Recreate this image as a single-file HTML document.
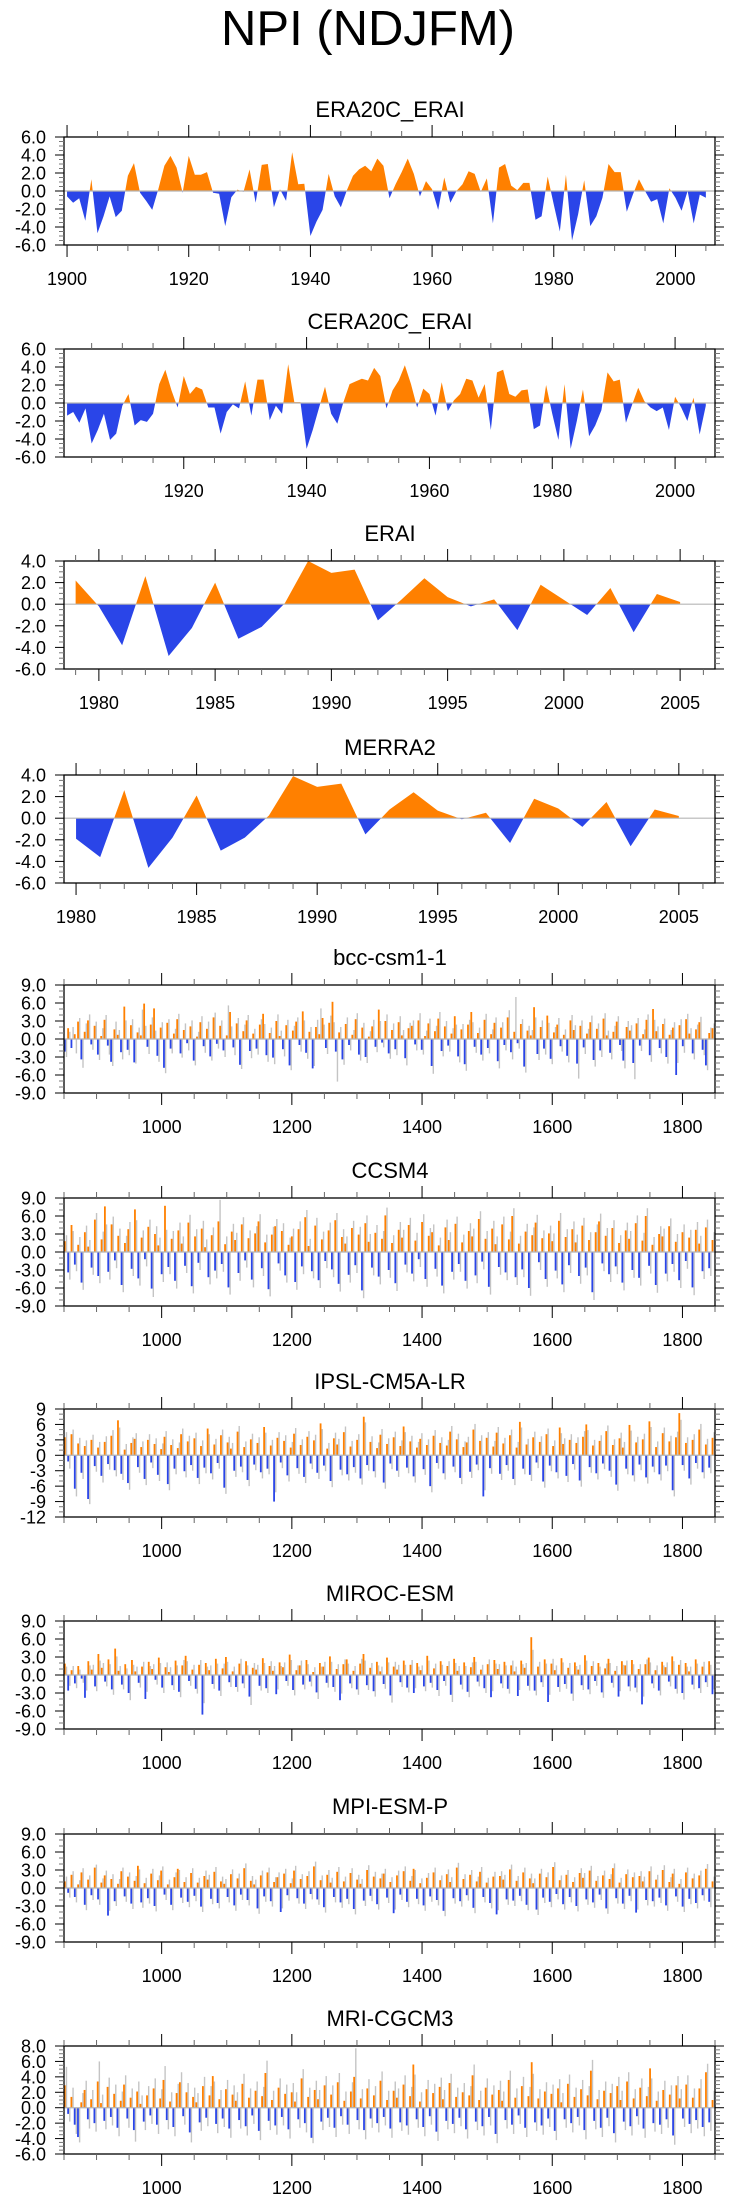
<!DOCTYPE html>
<html><head><meta charset="utf-8"><title>NPI (NDJFM)</title>
<style>
html,body{margin:0;padding:0;background:#fff;}
svg{display:block;font-family:"Liberation Sans",Arial,sans-serif;}
</style></head>
<body>
<svg id="chart" width="736" height="2204" viewBox="0 0 736 2204" xmlns="http://www.w3.org/2000/svg">
<text x="368" y="45" text-anchor="middle" font-size="49">NPI (NDJFM)</text>
</svg>
<script>
// ---- reanalysis data ----
const era20cStart = 1900;
const era20cVals = [-0.6,-1.3,-0.8,-3.3,1.3,-4.7,-2.8,-0.6,-2.9,-2.2,
1.7,3.1,-0.2,-1.1,-2.1,0.2,2.8,3.9,2.6,-0.2,
3.9,1.8,1.8,2.1,-0.2,-0.3,-3.9,-0.7,0.15,-0.1,
2.4,-1.3,2.9,3.0,-1.8,0.2,-1.1,4.3,0.75,0.8,
-5.0,-3.4,-2.1,1.9,-0.6,-1.8,0.1,1.7,2.4,2.8,
2.2,3.6,2.8,-0.8,0.75,2.1,3.6,1.9,-0.6,1.1,
0.2,-2.1,1.5,-1.3,0,0.75,2.2,1.9,-0.1,1.4,
-3.6,2.6,3.0,0.6,0.1,0.9,0.9,-3.2,-2.8,1.6,
-1.5,-4.5,1.8,-5.5,-2.6,1.2,-3.9,-2.8,-0.75,3.0,
2.1,2.1,-2.3,-0.4,1.3,0,-1.2,-0.9,-3.6,0.3,
-0.75,-2.2,0,-3.6,-0.4,-0.75];
const cera20cStart = 1901;
const cera20cVals = [-1.4,-1.0,-2.2,-0.6,-4.5,-3.0,-1.2,-4.1,-3.4,
-0.3,1.0,-2.5,-1.9,-2.1,-1.2,2.1,3.7,1.4,-0.5,
3.0,1.0,1.8,1.5,-0.5,-0.5,-3.4,-1.0,-0.15,-0.6,
2.4,-1.4,2.6,2.6,-1.9,-0.3,-1.2,4.3,0.1,0.1,
-5.1,-3.0,-0.6,1.8,-1.2,-2.3,0.1,2.1,2.4,2.7,
2.5,3.9,3.0,-0.6,1.4,2.5,4.2,2.1,-0.5,1.6,
1.0,-1.4,2.3,-0.9,0.3,1.0,2.7,2.5,0.6,2.1,
-3.0,3.4,3.7,1.0,0.7,1.4,1.5,-2.9,-2.5,2.0,
-1.2,-4.1,2.1,-5.1,-2.0,1.5,-3.7,-2.5,-0.8,3.4,
2.4,2.6,-2.2,-0.2,1.7,0.2,-0.5,-0.9,-0.5,-3.0,
0.7,-0.5,-2.0,0.6,-3.5,-0.3];
const eraiStart = 1979;
const eraiVals = [2.2,-0.2,-3.8,2.6,-4.8,-2.2,2.0,-3.2,-2.1,0.1,4.0,2.9,3.2,-1.5,0.4,2.4,0.65,-0.2,0.45,-2.4,1.8,0.4,-1.0,1.5,-2.6,0.95,0.2];
const merra2Start = 1980;
const merra2Vals = [-1.9,-3.6,2.6,-4.6,-1.8,2.1,-3.0,-1.8,0.25,3.9,2.9,3.2,-1.5,0.8,2.4,0.7,-0.1,0.5,-2.3,1.8,0.9,-0.8,1.5,-2.6,0.8,0.2];

// ---- model data (evenly spaced samples 850-1850) ----
const modelStart = 850;
const modelEnd = 1850;
const bccVals = [-2.1,1.8,-1.5,0.8,2.9,-3.4,1.2,3.1,-0.9,2.2,-2.6,0.5,3.2,-1.1,-3.8,1.6,0.7,-2.2,5.4,-1.8,2.3,-3.9,1.1,0.6,5.9,-1.3,2.4,5.1,-2.8,1.9,-4.8,2.7,-1.6,0.9,3.3,-2.4,1.5,-0.7,2.1,-3.6,0.4,2.8,-1.2,1.7,-2.9,3.6,-0.8,2.2,-1.9,0.6,4.5,-1.4,2.6,-4.3,1.3,3.1,-2.0,0.9,-1.6,2.4,4.2,-2.7,1.0,-3.1,3.0,0.5,-1.7,2.3,-4.4,1.4,2.9,-1.0,4.6,-2.3,1.2,-4.9,2.0,0.8,3.5,-1.5,2.7,6.2,-2.1,1.1,-3.4,2.5,-1.0,0.7,3.3,-2.6,1.9,-3.0,0.4,2.1,-1.3,4.9,-0.6,3.0,-2.4,1.5,-1.7,2.8,0.6,-3.2,1.8,2.2,-0.9,3.1,-1.8,0.5,2.6,-4.5,1.3,3.4,-2.0,2.1,-1.1,0.9,3.8,-2.9,1.6,-4.2,2.4,4.5,-1.3,1.0,-2.6,3.2,-1.5,0.8,2.7,-3.7,1.9,-1.0,3.6,-2.2,1.2,-0.7,2.5,-4.6,1.4,0.6,5.3,-2.5,2.0,-1.6,3.9,-3.3,1.1,2.4,-1.2,0.7,-2.8,3.1,1.5,-4.1,2.2,-1.4,0.9,2.8,-3.5,1.7,-1.9,3.4,0.6,-2.3,1.2,2.9,-1.0,-3.6,2.0,1.4,-4.0,2.6,-1.1,0.8,3.2,-2.7,5.0,1.3,-1.5,2.5,-3.0,0.7,1.9,-6.0,2.3,-1.2,3.3,0.9,-2.4,1.6,2.8,-1.8,-4.4,1.0,1.8];
const bccGrey = [-3.0,1.2,2.0,-2.4,3.5,-4.8,2.6,4.1,-1.8,2.9,-3.5,1.8,4.0,-2.6,-4.5,2.9,1.5,-3.4,3.1,-2.7,3.3,-4.1,1.9,4.9,2.2,-2.5,3.6,1.4,-3.8,2.8,-5.7,3.3,-2.4,1.7,4.2,-3.1,2.6,-1.9,3.1,-4.4,1.2,3.8,-2.3,2.9,-3.6,4.4,-1.6,3.1,-3.0,5.6,2.1,-2.7,3.5,-5.0,2.4,4.0,-3.2,1.7,-2.6,3.3,2.5,-3.8,1.9,-4.2,4.1,1.4,-2.9,3.2,-5.2,2.2,3.6,-2.1,3.1,-3.3,2.0,-4.5,3.2,5.1,2.4,-2.5,3.9,2.8,-7.1,2.0,-4.3,3.6,-1.9,1.5,4.3,-3.6,2.7,-4.0,1.3,3.2,-2.2,3.0,-1.4,4.1,-3.3,2.6,-2.7,3.8,1.5,-4.4,2.7,3.1,-1.9,4.3,-2.6,1.4,3.4,-5.8,2.2,4.5,-2.9,3.0,-2.1,1.8,2.4,-3.9,2.5,-5.3,3.2,2.8,-2.3,1.9,-3.6,4.2,-2.4,1.6,3.6,-4.9,2.8,-1.9,4.8,-3.4,7.0,-1.6,3.3,-5.6,2.2,1.5,3.6,-3.5,3.1,-2.6,2.7,-4.2,2.0,3.5,-2.1,1.6,-3.9,4.0,2.3,-6.6,3.1,-2.5,1.7,3.9,-4.6,2.6,-3.0,4.3,1.4,-3.4,2.2,3.8,-2.0,-4.9,3.0,2.3,-6.7,3.5,-2.0,1.6,4.1,-3.8,3.2,2.1,-2.4,3.4,-4.1,1.5,2.8,-4.0,3.3,-2.3,4.2,1.8,-3.4,2.4,3.7,-2.7,-5.2,1.9,2.6];
const ccsmVals = [1.8,-3.4,4.5,-2.1,1.2,-5.1,3.3,0.9,-2.6,5.4,-4.0,2.1,7.6,-3.3,4.6,-1.4,2.7,-5.5,1.5,3.8,-2.8,7.1,-4.4,2.4,-1.2,4.2,-6.1,3.0,1.1,-3.7,7.7,-2.5,2.2,-4.8,3.6,1.4,-2.3,4.9,-5.7,2.6,-1.8,3.9,0.8,-4.2,2.8,-3.1,5.1,-2.0,1.3,-5.9,3.4,2.0,-3.5,4.6,-1.4,2.3,-4.6,3.1,5.1,-2.7,1.6,-6.2,2.9,4.3,-1.9,3.5,-3.9,1.2,2.6,-5.0,3.8,-2.4,5.8,1.0,-3.2,4.4,-4.7,2.1,-1.5,3.6,-2.9,5.3,-5.3,2.5,1.4,-3.8,4.0,-2.2,2.9,-6.4,4.8,1.7,-2.6,3.2,-4.1,2.2,6.1,-3.0,1.5,-5.2,3.7,2.4,-2.1,4.5,-3.6,1.9,-1.2,5.0,-4.5,2.7,3.3,-2.8,1.1,-5.6,4.1,2.0,-3.3,4.7,-2.0,1.6,-4.8,3.5,2.6,-3.9,5.5,-1.6,2.2,-5.8,3.9,1.3,-2.5,4.6,-3.4,2.1,6.0,-4.2,1.4,-2.9,3.4,-6.0,2.8,4.9,-1.7,2.3,-4.5,3.1,1.8,-3.1,5.2,-5.4,2.5,-2.2,3.8,1.6,-4.0,4.4,-2.6,2.0,-6.7,3.3,5.1,-1.9,2.7,-3.7,4.0,-2.4,1.5,-5.1,3.6,2.2,-3.0,4.8,-4.3,1.9,6.0,-2.3,1.2,-5.5,3.0,2.6,-3.6,4.3,-2.0,1.7,-4.7,3.3,-1.5,2.4,-5.9,3.7,1.4,-3.2,4.1,-2.7,2.0];
const ccsmGrey = [2.8,-4.6,3.5,-3.2,2.5,-6.3,4.4,2.0,-3.8,6.5,-5.2,3.4,4.6,-4.6,5.9,-2.7,3.9,-6.7,2.7,5.0,-4.0,5.3,-5.6,3.6,-2.4,5.4,-7.5,4.3,2.4,-5.0,3.7,-3.7,3.5,-6.1,4.9,2.6,-3.5,6.2,-6.9,3.8,-3.0,5.2,2.1,-5.4,4.1,-4.4,8.7,-3.3,2.6,-7.1,4.7,3.2,-4.8,5.8,-2.6,3.6,-5.9,4.3,6.3,-4.0,2.9,-7.4,4.2,5.5,-3.1,4.8,-5.1,2.4,3.9,-6.3,5.1,-3.7,7.0,2.2,-4.4,5.7,-6.0,3.4,-2.7,4.9,-4.2,6.5,-6.6,3.8,2.6,-5.1,5.2,-3.5,4.2,-7.7,6.1,3.0,-3.9,4.5,-5.4,3.5,7.4,-4.3,2.8,-6.5,5.0,3.7,-3.4,5.7,-4.9,3.2,-2.5,6.3,-5.8,4.0,4.6,-4.1,2.4,-6.9,5.4,3.3,-4.6,5.9,-3.3,2.9,-6.1,4.8,3.9,-5.2,6.8,-2.9,3.5,-7.1,5.2,2.6,-3.8,5.9,-4.7,3.4,7.3,-5.5,2.7,-4.2,4.7,-7.3,4.1,6.2,-3.0,3.6,-5.8,4.4,3.1,-4.4,6.5,-6.7,3.8,-3.5,5.1,2.9,-5.3,5.7,-3.9,3.3,-8.0,4.6,6.4,-3.2,4.0,-5.0,5.3,-3.7,2.8,-6.4,4.9,3.5,-4.3,6.1,-5.6,3.2,7.3,-3.6,2.5,-6.8,4.3,3.9,-4.9,5.6,-3.3,3.0,-6.0,4.6,-2.8,3.7,-7.2,5.0,2.7,-4.5,5.4,-4.0,3.3];
const ipslVals = [3.5,-1.2,4.1,-6.5,2.3,-3.4,1.8,-8.5,3.0,-2.1,1.5,-4.0,2.6,-1.7,3.8,-2.9,6.8,-3.6,1.1,-5.4,2.4,3.2,-2.3,1.6,-4.6,3.0,-1.4,2.2,-3.8,1.2,3.6,-5.6,2.0,-2.6,1.4,4.1,-3.1,2.7,-1.9,3.3,-4.4,1.8,-2.4,5.2,-3.5,2.1,-1.5,3.9,-6.3,2.5,1.3,-3.0,4.6,-2.2,1.6,-4.8,3.1,-1.8,2.4,-3.3,5.5,-2.6,1.9,-9.0,3.4,-1.4,2.8,-3.9,1.5,4.2,-2.5,2.0,-4.2,3.6,-1.6,2.9,-3.4,6.2,-2.0,1.3,-5.0,3.3,2.1,-2.8,4.5,-3.7,1.7,-2.3,3.0,-4.5,7.5,-1.9,2.6,-3.1,1.4,4.0,-5.3,2.2,-1.6,3.5,-3.0,1.8,5.6,-2.4,2.7,-4.1,1.5,3.2,-2.7,2.0,-6.0,3.8,-1.5,2.4,-3.5,1.9,4.6,-2.2,3.1,-4.4,1.6,2.5,-3.2,5.0,-1.8,2.8,-8.0,3.4,-2.5,1.7,4.4,-3.6,2.3,-1.9,3.9,-4.6,1.5,6.5,-2.6,2.1,-3.8,3.5,-1.4,2.6,-5.1,4.1,-2.0,1.8,-3.3,5.4,2.2,-4.0,3.0,-1.7,2.4,-4.9,3.6,6.0,-2.3,1.9,-3.5,2.8,-1.6,4.7,-3.0,2.0,-5.7,3.3,1.5,-2.6,5.9,-3.9,2.5,-1.8,3.1,-4.3,6.6,-2.2,1.6,-3.7,4.3,-2.0,2.7,-6.8,3.5,8.2,-1.9,2.4,-4.5,3.0,-1.5,5.0,-3.3,2.1,-2.4,3.4];
const ipslGrey = [4.5,-2.6,5.0,-8.0,3.4,-4.6,2.9,-9.5,4.0,-3.2,2.6,-5.3,3.7,-2.8,4.9,-4.1,5.4,-4.8,2.2,-6.7,3.5,4.3,-3.4,2.7,-5.8,4.1,-2.5,3.3,-5.0,2.3,4.7,-6.8,3.1,-3.7,2.5,5.2,-4.3,3.8,-3.0,4.4,-5.6,2.9,-3.5,4.1,-4.7,3.2,-2.6,5.0,-7.5,3.6,2.4,-4.2,5.7,-3.3,2.7,-6.0,4.2,-2.9,3.5,-4.5,4.4,-3.7,3.0,-7.2,4.5,-2.5,3.9,-5.1,2.6,5.3,-3.6,3.1,-5.4,4.7,-2.7,4.0,-4.6,5.1,-3.1,2.4,-6.2,4.4,3.2,-3.9,5.6,-4.9,2.8,-3.4,4.1,-5.7,6.4,-3.0,3.7,-4.3,2.5,5.1,-6.5,3.3,-2.7,4.6,-4.2,2.9,4.5,-3.5,3.8,-5.3,2.6,4.3,-3.8,3.1,-7.2,4.9,-2.6,3.5,-4.7,3.0,5.7,-3.3,4.2,-5.6,2.7,3.6,-4.4,6.1,-2.9,3.9,-6.8,4.5,-3.6,2.8,5.5,-4.8,3.4,-3.0,5.0,-5.8,2.6,5.4,-3.7,3.2,-5.0,4.6,-2.5,3.7,-6.3,5.2,-3.1,2.9,-4.5,4.3,3.3,-5.2,4.1,-2.8,3.5,-6.1,4.7,4.9,-3.4,3.0,-4.7,3.9,-2.7,5.8,-4.2,3.1,-6.9,4.4,2.6,-3.7,4.8,-5.1,3.6,-2.9,4.2,-5.5,5.5,-3.3,2.7,-4.9,5.4,-3.1,3.8,-8.0,4.6,6.9,-3.0,3.5,-5.7,4.1,-2.6,6.1,-4.5,3.2,-3.5,4.5];
const mirocVals = [1.9,-2.6,0.8,-1.4,1.5,-0.6,-3.8,2.3,0.9,-1.9,3.5,1.2,-1.1,2.6,-2.4,4.4,0.7,-1.6,1.8,-3.0,2.5,0.6,-1.3,1.4,-4.0,2.2,1.0,-0.8,2.9,-2.1,1.3,0.5,-1.7,2.4,-2.8,1.6,3.2,-1.0,0.9,-2.3,1.7,-6.6,2.0,0.8,-1.5,2.7,-2.6,1.1,3.0,-1.2,0.6,-2.0,1.9,-1.4,2.3,-3.6,1.2,0.9,-1.8,2.8,-2.2,1.5,0.7,-3.2,2.1,1.3,-1.0,3.4,-2.5,0.8,1.6,-1.6,2.5,-1.1,0.5,-2.9,2.0,1.4,-1.3,3.1,-2.0,1.0,-4.2,1.8,2.6,-1.4,0.7,-2.4,1.9,3.5,-1.7,1.2,-2.7,2.2,0.6,-1.5,2.9,-3.4,1.4,0.9,-1.2,2.4,-2.1,1.7,-3.0,2.0,0.8,-1.9,3.2,-1.3,1.1,-2.5,2.3,-1.0,1.5,-3.3,2.7,0.7,-1.6,2.1,-2.8,1.3,3.0,-1.1,0.9,-2.2,1.8,-3.7,2.5,1.0,-1.4,2.2,-2.3,1.6,0.6,-3.5,2.4,1.2,-1.8,6.3,-2.6,1.4,-1.2,2.6,-4.5,1.9,0.8,-2.0,2.8,-1.5,1.2,-3.1,2.1,0.9,-1.7,3.3,-2.4,1.5,-1.0,2.0,-2.9,1.1,2.7,-1.3,0.7,-3.6,2.3,1.6,-1.9,2.5,-2.1,1.0,-4.9,1.8,2.9,-1.4,0.8,-2.6,2.2,1.3,-1.1,3.1,-2.3,1.7,-3.0,2.0,0.6,-1.6,2.6,-2.2,1.4,-1.2,2.3,-3.2];
const mirocGrey = [1.4,-1.8,1.5,-2.2,0.9,-1.3,-2.6,1.6,1.7,-2.7,2.4,2.0,-1.9,1.8,-3.3,3.1,1.5,-2.4,1.1,-4.2,1.7,1.4,-2.1,2.2,-2.8,1.5,1.8,-1.6,2.0,-3.0,2.1,1.3,-2.5,1.6,-3.7,2.5,2.3,-1.8,1.7,-3.1,2.5,-4.7,1.4,1.6,-2.3,1.9,-3.5,1.9,2.2,-2.0,1.4,-2.8,2.7,-2.2,1.6,-5.0,2.0,1.7,-2.6,2.0,-3.0,2.3,1.5,-2.4,1.5,2.1,-1.8,2.5,-3.4,1.6,2.4,-2.4,1.8,-1.9,1.3,-4.0,1.4,2.2,-2.1,2.2,-2.8,1.8,-3.1,2.6,1.9,-2.2,1.5,-3.3,2.7,2.4,-2.5,2.0,-3.6,1.6,1.4,-2.3,2.1,-4.6,2.2,1.7,-2.0,1.7,-2.9,2.5,-2.2,1.4,1.6,-2.7,2.4,-2.1,1.9,-3.5,1.7,-1.8,2.3,-4.5,2.0,1.5,-2.4,1.5,-3.7,2.1,2.2,-1.9,1.7,-3.0,2.6,-2.7,1.9,1.8,-2.2,1.6,-3.1,2.4,1.4,-2.5,1.8,2.0,-2.6,4.2,-3.4,2.2,-2.0,1.9,-3.3,2.7,1.6,-2.8,2.1,-2.3,2.0,-4.3,1.5,1.7,-2.5,2.4,-3.2,2.3,-1.8,1.4,-3.8,1.9,2.0,-2.1,1.5,-2.7,1.7,2.4,-2.7,1.8,-2.9,1.8,-3.6,2.6,2.1,-2.2,1.6,-3.4,1.6,2.1,-1.9,2.3,-3.1,2.5,-4.1,1.4,1.4,-2.4,1.9,-3.0,2.2,-2.0,1.7,-2.4];
const mpiVals = [1.1,-0.8,2.2,-1.5,0.6,2.6,-2.8,1.4,-1.2,3.4,-1.9,0.9,2.1,-4.6,1.5,-2.2,0.7,2.8,-1.4,1.9,-2.6,1.2,3.7,-2.4,0.8,-1.7,2.4,-3.0,1.3,2.9,-1.1,0.6,-2.8,1.8,3.2,-1.6,1.0,-2.3,2.5,-1.3,0.9,-3.1,2.0,1.4,-1.8,2.7,-2.5,1.1,0.7,-1.5,2.3,-2.9,1.6,-1.1,3.3,-2.0,1.2,0.6,-3.4,2.1,-1.4,2.6,-2.2,1.0,1.8,-4.0,2.4,-1.2,0.8,2.9,-1.7,1.5,-2.6,2.0,-1.0,3.6,-1.9,1.3,-3.2,2.2,0.9,-1.5,2.7,-2.4,1.1,-1.8,2.5,-3.5,1.4,0.7,-2.1,3.0,-1.3,1.9,-2.7,1.6,2.4,-1.6,1.0,-4.2,2.1,-1.1,2.8,-2.3,1.2,3.2,-1.8,0.8,-2.9,1.7,-1.4,2.6,-2.0,1.3,-3.8,2.3,1.0,-1.7,3.4,-2.2,1.5,-1.2,2.2,-3.3,1.1,2.7,-1.5,0.9,-2.5,1.9,-4.4,2.0,1.4,-1.9,3.1,-2.1,1.2,-1.3,2.6,-2.8,1.6,0.8,-3.6,2.4,-1.6,1.8,-2.3,3.5,-1.0,1.3,-2.7,2.2,-1.5,1.0,-3.0,2.5,1.7,-1.9,2.9,-2.4,1.2,-1.1,2.1,-3.4,1.5,3.3,-1.7,0.9,-2.6,2.3,-1.3,1.8,-4.1,2.0,1.1,-2.0,2.8,-2.2,1.4,-1.6,3.0,-2.9,1.0,2.4,-1.4,0.7,-3.1,2.6,-1.8,1.6,-2.5,2.1,-1.2,3.2,-2.3,1.1];
const mpiGrey = [1.9,-1.6,2.8,-2.4,1.3,3.3,-3.7,2.1,-2.0,3.9,-2.8,1.6,2.9,-3.8,2.3,-3.0,1.5,3.4,-2.3,2.6,-3.5,2.0,3.1,-3.3,1.7,-2.6,3.2,-3.9,2.1,3.6,-2.0,1.4,-3.7,2.6,3.0,-2.5,1.8,-3.2,3.3,-2.2,1.7,-4.0,2.9,2.2,-2.7,3.5,-3.4,1.9,1.5,-2.4,3.1,-3.8,2.4,-2.0,4.1,-2.9,2.0,1.4,-4.3,2.9,-2.3,3.4,-3.1,1.8,2.6,-3.4,3.2,-2.1,1.6,3.7,-2.6,2.3,-3.5,2.8,-1.9,4.4,-2.8,2.1,-4.1,3.0,1.7,-2.4,3.5,-3.3,1.9,-2.7,3.3,-4.4,2.2,1.5,-3.0,3.8,-2.2,2.7,-3.6,2.4,3.2,-2.5,1.8,-3.6,2.9,-2.0,3.6,-3.2,2.0,3.0,-2.7,1.6,-3.8,2.5,-2.3,3.4,-2.9,2.1,-4.7,3.1,1.8,-2.6,4.2,-3.1,2.3,-2.1,3.0,-4.2,1.9,3.5,-2.4,1.7,-3.4,2.7,-3.7,2.8,2.2,-2.8,3.9,-3.0,2.0,-2.2,3.4,-3.7,2.4,1.6,-4.5,3.2,-2.5,2.6,-3.2,4.3,-1.9,2.1,-3.6,3.0,-2.4,1.8,-3.9,3.3,2.5,-2.8,3.7,-3.3,2.0,-2.0,2.9,-4.3,2.3,4.1,-2.6,1.7,-3.5,3.1,-2.2,2.6,-3.6,2.8,1.9,-2.9,3.6,-3.1,2.2,-2.5,3.8,-3.8,1.8,3.2,-2.3,1.5,-4.0,3.4,-2.7,2.4,-3.4,2.9,-2.1,4.0,-3.2,1.9];
const mriVals = [2.9,-0.8,1.4,-2.2,-3.8,0.7,2.3,-1.5,1.1,-2.0,3.4,0.6,-1.7,2.7,-1.2,1.8,-2.6,0.9,3.0,-1.4,1.3,-2.9,2.1,0.5,-1.8,1.6,-1.0,2.5,-2.2,1.2,3.6,-1.6,0.8,-2.5,1.9,3.3,-1.1,2.0,-3.2,1.4,0.7,-1.9,2.8,-1.3,1.6,4.1,-2.1,1.1,-1.4,2.4,-2.7,1.7,0.9,-1.6,3.1,-2.4,1.3,-1.0,2.2,-3.0,1.5,4.5,-1.7,1.0,-2.3,2.6,-1.2,1.8,-2.8,2.0,0.8,-1.5,3.8,-2.0,1.4,-3.9,2.3,1.1,-1.8,2.9,-1.3,1.7,-2.6,3.3,-1.1,0.9,-2.2,2.1,4.0,-1.6,1.2,-2.9,2.5,-1.4,1.6,-2.0,3.5,-1.2,1.0,-2.7,2.2,1.3,-1.9,3.0,-2.3,1.5,5.6,-1.5,0.8,-2.5,2.4,-1.1,1.9,-3.1,2.7,1.1,-1.7,3.2,-2.1,1.4,-1.3,2.0,-2.8,1.6,4.2,-1.8,1.0,-2.4,2.6,-1.2,1.7,-3.4,2.3,0.9,-1.6,3.6,-2.2,1.3,-1.0,2.8,-2.6,1.5,5.9,-1.9,1.2,-2.3,2.1,-1.4,1.8,-3.0,2.5,0.7,-1.5,3.1,-2.0,1.4,-1.2,2.4,-2.9,1.6,4.8,-1.7,1.1,-2.6,2.2,-1.3,1.9,-3.3,2.8,1.0,-1.8,3.4,-2.4,1.2,-1.1,2.6,-2.7,1.5,5.1,-2.0,0.9,-2.2,2.3,-1.5,1.7,-3.6,2.9,1.2,-1.4,3.0,-2.1,1.3,-1.6,2.5,-2.5,4.6,-1.9,1.0];
const mriGrey = [5.3,-1.8,2.6,-3.4,-4.5,1.9,3.5,-2.7,2.3,-3.1,6.0,1.7,-2.8,3.9,-2.3,3.0,-3.7,2.1,4.2,-2.6,2.5,-4.4,3.4,1.6,-2.9,2.8,-2.1,3.8,-3.4,2.4,5.4,-2.8,2.0,-3.7,3.1,4.6,-2.2,3.2,-4.5,2.6,1.9,-3.0,4.0,-2.4,2.8,3.4,-3.3,2.3,-2.5,3.6,-3.9,2.9,2.0,-2.7,4.4,-3.6,2.5,-2.1,3.4,-4.2,2.7,6.1,-2.9,2.2,-3.5,3.8,-2.3,3.0,-4.0,3.2,2.0,-2.6,5.0,-3.2,2.6,-4.6,3.5,2.3,-2.9,4.1,-2.5,2.9,-3.8,4.5,-2.2,2.1,-3.4,3.3,7.7,-2.8,2.4,-4.1,3.7,-2.6,2.8,-3.2,4.7,-2.3,2.2,-3.9,3.4,2.5,-3.0,4.2,-3.5,2.7,4.3,-2.6,2.0,-3.7,3.6,-2.2,3.1,-4.3,3.9,2.3,-2.8,4.4,-3.3,2.6,-2.4,3.2,-4.0,2.8,5.6,-2.9,2.2,-3.6,3.8,-2.3,2.9,-4.6,3.5,2.1,-2.7,4.8,-3.4,2.5,-2.1,4.0,-3.8,2.7,4.4,-3.0,2.4,-3.5,3.3,-2.5,3.0,-4.2,3.7,1.9,-2.6,4.3,-3.2,2.6,-2.3,3.6,-4.1,2.8,6.2,-2.8,2.3,-3.8,3.4,-2.4,3.1,-4.5,4.0,2.2,-2.9,4.6,-3.6,2.4,-2.2,3.8,-3.9,2.7,3.8,-3.1,2.1,-3.4,3.5,-2.6,2.9,-4.8,4.1,2.4,-2.5,4.2,-3.3,2.5,-2.7,3.7,-3.7,5.7,-3.0,2.2];

// ---- axis tick definitions ----
const ticks6 = [-6,-4,-2,0,2,4,6];
const labels6 = ["-6.0","-4.0","-2.0","0.0","2.0","4.0","6.0"];
const ticks4 = [-6,-4,-2,0,2,4];
const labels4 = ["-6.0","-4.0","-2.0","0.0","2.0","4.0"];
const ticks9 = [-9,-6,-3,0,3,6,9];
const labels9 = ["-9.0","-6.0","-3.0","0.0","3.0","6.0","9.0"];
const ticksIpsl = [-12,-9,-6,-3,0,3,6,9];
const labelsIpsl = ["-12","-9","-6","-3","0","3","6","9"];
const ticksMri = [-6,-4,-2,0,2,4,6,8];
const labelsMri = ["-6.0","-4.0","-2.0","0.0","2.0","4.0","6.0","8.0"];

const NS = "http://www.w3.org/2000/svg";
const svg = document.getElementById("chart");
const ORANGE = "#ff8000", BLUE = "#2a45e8", GREY = "#c4c4c4";
const X0 = 64, X1 = 715, H = 108;

function mk(tag, attrs, parent) {
  const e = document.createElementNS(NS, tag);
  for (const k in attrs) e.setAttribute(k, attrs[k]);
  (parent || svg).appendChild(e);
  return e;
}

function drawPanel(p, idx) {
  const g = mk("g", {});
  
  
  const top = p.top, bot = p.top + H;
  const xs = v => X0 + (v - p.xmin) / (p.xmax - p.xmin) * (X1 - X0);
  const ys = v => top + (p.ymax - v) / (p.ymax - p.ymin) * H;

  const t = mk("text", {x: 390, y: top - 20, "text-anchor": "middle", "font-size": 22}, g);
  t.textContent = p.title;
  
  

  const clipA = "ca" + idx, clipB = "cb" + idx;
  const defs = mk("defs", {}, g);
  const c1 = mk("clipPath", {id: clipA}, defs);
  mk("rect", {x: X0, y: top, width: X1 - X0, height: ys(0) - top}, c1);
  const c2 = mk("clipPath", {id: clipB}, defs);
  mk("rect", {x: X0, y: ys(0), width: X1 - X0, height: bot - ys(0)}, c2);

  if (p.type === "area") {
    let pts = [];
    p.vals.forEach((v, i) => pts.push(xs(p.start + i).toFixed(2) + "," + ys(v).toFixed(2)));
    const xa = xs(p.start), xb = xs(p.start + p.vals.length - 1);
    const poly = xa + "," + ys(0) + " " + pts.join(" ") + " " + xb + "," + ys(0);
    const pa = mk("polygon", {points: poly, fill: ORANGE, "clip-path": "url(#" + clipA + ")"}, g);
    
    
    const pb = mk("polygon", {points: poly, fill: BLUE, "clip-path": "url(#" + clipB + ")"}, g);
    
    
  } else {
    const span = modelEnd - modelStart;
    const gstep = span / p.grey.length, vstep = span / p.vals.length;
    const gg = mk("g", {}, g);
    
    
    p.grey.forEach((v, i) => {
      const x = xs(modelStart + gstep * i + gstep * 0.75);
      const r = mk("rect", {x: x - 0.7, y: Math.min(ys(v), ys(0)), width: 1.4, height: Math.abs(ys(v) - ys(0)), fill: GREY}, gg);
      
    });
    const gb = mk("g", {}, g);
    
    
    p.vals.forEach((v, i) => {
      const x = xs(modelStart + vstep * i + vstep * 0.25);
      const r = mk("rect", {x: x - 0.9, y: Math.min(ys(v), ys(0)), width: 1.8, height: Math.abs(ys(v) - ys(0)), fill: v >= 0 ? ORANGE : BLUE}, gb);
      
    });
  }
  const zl = mk("line", {x1: X0, x2: X1, y1: ys(0), y2: ys(0), stroke: "#b5b5b5", "stroke-width": 1.2}, g);
  
  

  const fr = mk("rect", {x: X0, y: top, width: X1 - X0, height: H, fill: "none", stroke: "#000", "stroke-width": 1.3}, g);
  
  

  for (let yv = Math.ceil(p.xmin / p.xminor) * p.xminor; yv <= p.xmax; yv += p.xminor) {
    const major = Math.abs(yv % p.xmajor) < 1e-6;
    const x = xs(yv), L = major ? 12 : 6;
    mk("line", {x1: x, x2: x, y1: top, y2: top - L, stroke: major ? "#000" : "#666", "stroke-width": 1}, g);
    mk("line", {x1: x, x2: x, y1: bot, y2: bot + L, stroke: major ? "#000" : "#666", "stroke-width": 1}, g);
    if (major) {
      const lb = mk("text", {x: x, y: bot + 40, "text-anchor": "middle", "font-size": 18}, g);
      lb.textContent = String(yv);
      
      
    }
  }
  const step = p.ticks[1] - p.ticks[0];
  for (let v = p.ymin; v <= p.ymax + 1e-6; v += step / p.ysub) {
    const major = p.ticks.some(t => Math.abs(t - v) < 1e-6);
    const y = ys(v), L = major ? 9 : 5;
    mk("line", {x1: X0, x2: X0 - L, y1: y, y2: y, stroke: major ? "#000" : "#777", "stroke-width": 1}, g);
    mk("line", {x1: X1, x2: X1 + L, y1: y, y2: y, stroke: major ? "#000" : "#777", "stroke-width": 1}, g);
  }
  p.ticks.forEach((v, i) => {
    const lb = mk("text", {x: 46, y: ys(v) + 6.5, "text-anchor": "end", "font-size": 18}, g);
    lb.textContent = p.labels[i];
    
    
  });
}

const panels = [
  {key: "era20c-erai", title: "ERA20C_ERAI", type: "area", top: 137, start: era20cStart, vals: era20cVals, xmin: 1899.5, xmax: 2006.5, xmajor: 20, xminor: 5, ymin: -6, ymax: 6, ticks: ticks6, labels: labels6, ysub: 4},
  {key: "cera20c-erai", title: "CERA20C_ERAI", type: "area", top: 349, start: cera20cStart, vals: cera20cVals, xmin: 1900.5, xmax: 2006.5, xmajor: 20, xminor: 5, ymin: -6, ymax: 6, ticks: ticks6, labels: labels6, ysub: 4},
  {key: "erai", title: "ERAI", type: "area", top: 561, start: eraiStart, vals: eraiVals, xmin: 1978.5, xmax: 2006.5, xmajor: 5, xminor: 1, ymin: -6, ymax: 4, ticks: ticks4, labels: labels4, ysub: 4},
  {key: "merra2", title: "MERRA2", type: "area", top: 775, start: merra2Start, vals: merra2Vals, xmin: 1979.5, xmax: 2006.5, xmajor: 5, xminor: 1, ymin: -6, ymax: 4, ticks: ticks4, labels: labels4, ysub: 4},
  {key: "bcc-csm1-1", title: "bcc-csm1-1", type: "bar", top: 985, vals: bccVals, grey: bccGrey, xmin: 850, xmax: 1850, xmajor: 200, xminor: 50, ymin: -9, ymax: 9, ticks: ticks9, labels: labels9, ysub: 3},
  {key: "ccsm4", title: "CCSM4", type: "bar", top: 1198, vals: ccsmVals, grey: ccsmGrey, xmin: 850, xmax: 1850, xmajor: 200, xminor: 50, ymin: -9, ymax: 9, ticks: ticks9, labels: labels9, ysub: 3},
  {key: "ipsl-cm5a-lr", title: "IPSL-CM5A-LR", type: "bar", top: 1409, vals: ipslVals, grey: ipslGrey, xmin: 850, xmax: 1850, xmajor: 200, xminor: 50, ymin: -12, ymax: 9, ticks: ticksIpsl, labels: labelsIpsl, ysub: 3},
  {key: "miroc-esm", title: "MIROC-ESM", type: "bar", top: 1621, vals: mirocVals, grey: mirocGrey, xmin: 850, xmax: 1850, xmajor: 200, xminor: 50, ymin: -9, ymax: 9, ticks: ticks9, labels: labels9, ysub: 3},
  {key: "mpi-esm-p", title: "MPI-ESM-P", type: "bar", top: 1834, vals: mpiVals, grey: mpiGrey, xmin: 850, xmax: 1850, xmajor: 200, xminor: 50, ymin: -9, ymax: 9, ticks: ticks9, labels: labels9, ysub: 3},
  {key: "mri-cgcm3", title: "MRI-CGCM3", type: "bar", top: 2046, vals: mriVals, grey: mriGrey, xmin: 850, xmax: 1850, xmajor: 200, xminor: 50, ymin: -6, ymax: 8, ticks: ticksMri, labels: labelsMri, ysub: 4}
];
panels.forEach((p, i) => drawPanel(p, i));
</script>
</body></html>
